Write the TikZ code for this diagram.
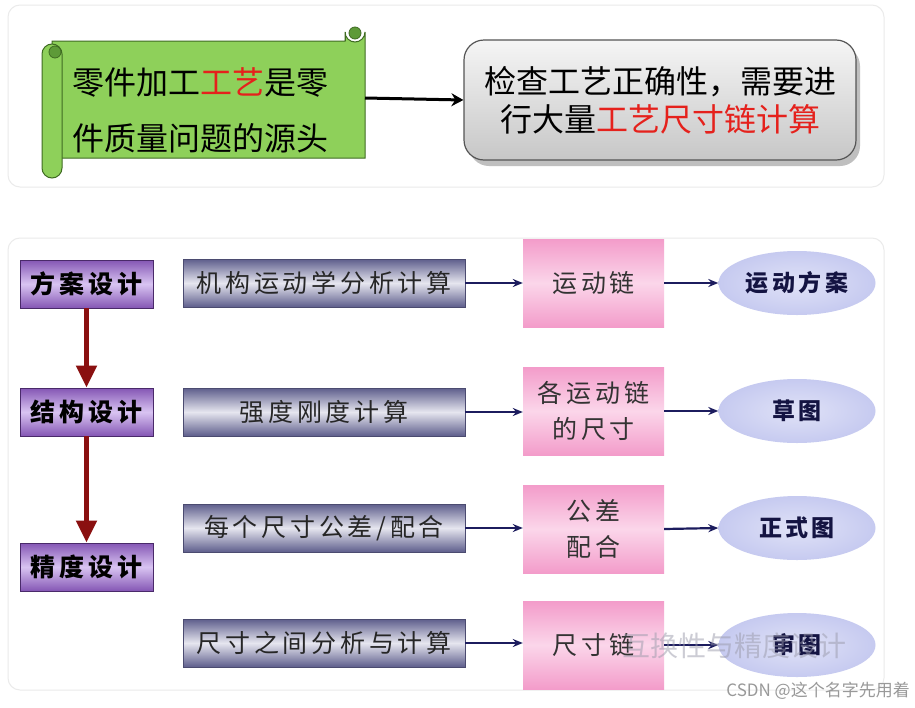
\documentclass[tikz,border=0pt]{standalone}
\usepackage{fontspec}
\usetikzlibrary{arrows.meta,shapes.geometric}
\newfontfamily\cjk{Noto Sans CJK SC}
\newfontfamily\cjksp[LetterSpace=15]{Noto Sans CJK SC}
\definecolor{panelborder}{HTML}{EBEBEB}
\definecolor{scrollgreen}{HTML}{8ED05A}
\definecolor{scrolldark}{HTML}{3F6B22}
\definecolor{rolldark}{HTML}{5E9A38}
\definecolor{boxborder}{HTML}{555555}
\definecolor{redtxt}{HTML}{E5211C}
\definecolor{navy}{HTML}{1C1C5E}
\definecolor{darkred}{HTML}{8A1010}
\definecolor{purpedge}{HTML}{8456B4}
\definecolor{purpmid}{HTML}{D9C4F2}
\definecolor{purpline}{HTML}{4A2A6A}
\definecolor{bardark}{HTML}{5E5E8C}
\definecolor{barlight}{HTML}{E6E6EF}
\definecolor{pinkedge}{HTML}{F39CCA}
\definecolor{pinkmid}{HTML}{FBD6EA}
\definecolor{ellfill}{HTML}{C6CAF0}
\definecolor{wmgray}{HTML}{9A9AAA}
\begin{document}
\begin{tikzpicture}[x=1pt,y=-1pt,
  panel/.style={draw=panelborder,line width=1pt,rounded corners=12pt,fill=white},
  stagebox/.style={draw=purpline,line width=0.8pt,top color=purpedge,bottom color=purpedge,middle color=purpmid,
    minimum width=133pt,minimum height=48pt,inner sep=0pt,font=\cjksp\bfseries\fontsize{25}{30}\selectfont},
  calcbar/.style={draw=bardark!80!black,line width=0.6pt,top color=bardark,bottom color=bardark,middle color=barlight,
    minimum width=282pt,minimum height=48pt,inner sep=0pt,font=\cjksp\fontsize{25}{30}\selectfont,text=black!85},
  pinkbox/.style={top color=pinkedge,bottom color=pinkedge,middle color=pinkmid,
    minimum width=141pt,minimum height=88pt,inner sep=0pt,align=center,
    font=\cjksp\fontsize{25}{36}\selectfont,text=black!80},
  resell/.style={ellipse,inner color=ellfill!55!white,outer color=ellfill,minimum width=157pt,minimum height=64pt,inner sep=0pt,
    font=\cjksp\bfseries\fontsize{23}{28}\selectfont,text=navy!70!black},
  navyarrow/.style={draw=navy,line width=2.2pt,-{Stealth[length=10pt,width=8pt]}},
  redarrow/.style={draw=darkred,line width=5pt,-{Triangle[length=22pt,width=20pt]}}
]
\path[use as bounding box] (0,0) rectangle (915,707);
\fill[white] (0,0) rectangle (915,707);
% panels
\draw[panel] (8,5) rectangle (884,187);
\draw[panel] (8,238) rectangle (884,690);

% ---- scroll ----
\fill[scrollgreen,draw=scrolldark,line width=1pt]
  (52,41) -- (345,41) -- (345,32) arc[start angle=180,end angle=0,radius=10] -- (365,158) -- (52,158) -- cycle;
\fill[rolldark,draw=scrolldark,line width=0.8pt] (355,33) circle[radius=6];
\draw[scrolldark,line width=1pt] (345,32) -- (345,41);
\fill[scrollgreen,draw=scrolldark,line width=1pt,rounded corners=10pt] (42,44) rectangle (62,178);
\fill[rolldark,draw=scrolldark,line width=0.8pt] (55,52) circle[radius=6];
\node[font=\cjk\fontsize{32}{56}\selectfont,align=left,anchor=west,inner sep=0pt] (scroll) at (72,110)
  {零件加工{\color{redtxt}工艺}是零\\件质量问题的源头};
\coordinate (scrollR) at (365,98);

% ---- gray rounded box ----
\fill[black!25] (469,46) [rounded corners=20pt] rectangle (860,166);
\node[draw=boxborder,line width=1.2pt,rounded corners=20pt,top color=white!96!black,bottom color=black!22,
  minimum width=392pt,minimum height=120pt,inner sep=0pt,align=center,
  font=\cjk\fontsize{32}{38}\selectfont] (check) at (660,100)
  {检查工艺正确性，需要进\\行大量{\color{redtxt}工艺尺寸链计算}};
\draw[black,line width=3pt,-{Stealth[length=12pt,width=13pt]}] (scrollR) -- (check.west);

% ---- stage boxes ----
\node[stagebox] (s1) at (86.5,284) {方案设计};
\node[stagebox] (s2) at (86.5,412) {结构设计};
\node[stagebox] (s3) at (86.5,567) {精度设计};
\draw[redarrow] (s1.south) -- (s2.north);
\draw[redarrow] (s2.south) -- (s3.north);

% ---- calc bars ----
\node[calcbar] (b1) at (324,283) {机构运动学分析计算};
\node[calcbar] (b2) at (324,412) {强度刚度计算};
\node[calcbar] (b3) at (324,528) {每个尺寸公差/配合};
\node[calcbar] (b4) at (324,643) {尺寸之间分析与计算};

% ---- pink boxes ----
\node[pinkbox] (p1) at (593.5,283) {运动链};
\node[pinkbox] (p2) at (593.5,411) {各运动链\\的尺寸};
\node[pinkbox] (p3) at (593.5,529) {公差\\配合};
\node[pinkbox] (p4) at (593.5,645) {尺寸链};

% ---- result ellipses ----
\node[resell] (e1) at (797,283) {运动方案};
\node[resell] (e2) at (797,411) {草图};
\node[resell] (e3) at (797,528) {正式图};
\node[resell] (e4) at (797,645) {审图};

% ---- connectors ----
\draw[navyarrow] (b1.east) -- (b1.east -| p1.west);
\draw[navyarrow] (b2.east) -- (b2.east -| p2.west);
\draw[navyarrow] (b3.east) -- (b3.east -| p3.west);
\draw[navyarrow] (b4.east) -- (b4.east -| p4.west);
\draw[navyarrow] (p1.east) -- (e1.west);
\draw[navyarrow] (p2.east) -- (e2.west);
\draw[navyarrow] (p3.east) -- (e3.west);
\draw[navyarrow] (p4.east) -- (e4.west);

% ---- watermarks ----
\node[font=\cjk\fontsize{28}{30}\selectfont,text=wmgray,opacity=0.5,anchor=west,inner sep=0pt] (wm) at (622,646) {互换性与精度设计};
\node[font=\cjk\fontsize{17}{20}\selectfont,text=black!40,anchor=east,inner sep=0pt] (csdn) at (910,691) {CSDN @这个名字先用着};
\end{tikzpicture}
\end{document}
